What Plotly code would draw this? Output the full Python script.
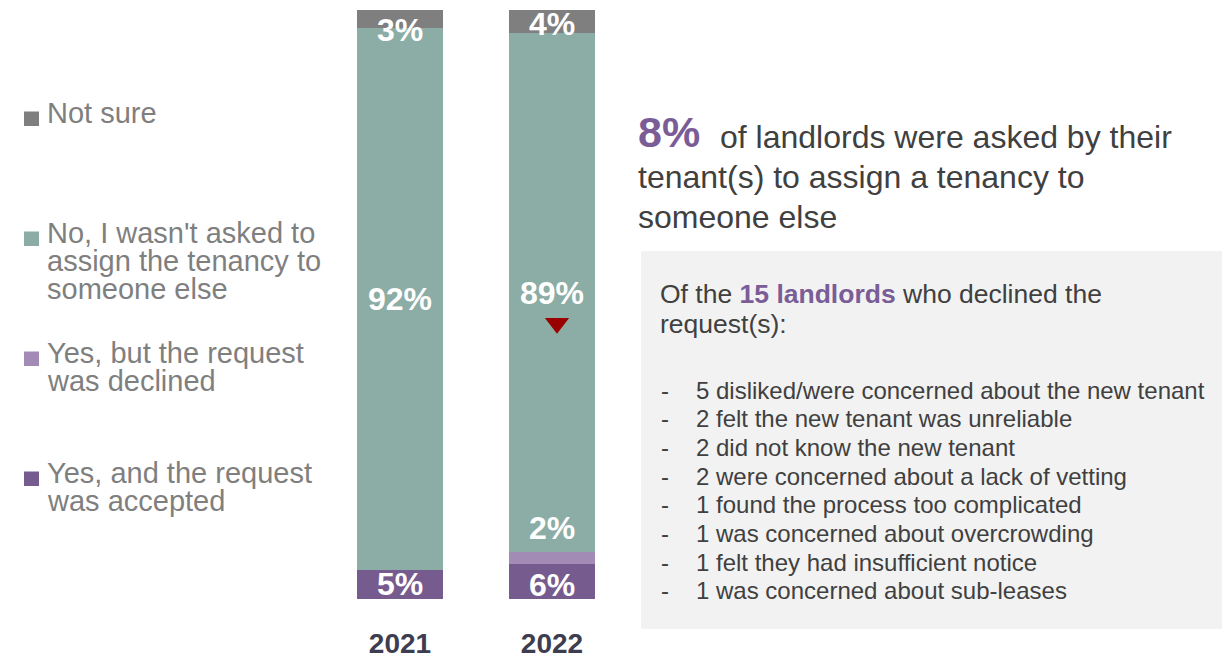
import plotly.graph_objects as go

# ---------------- data ----------------
years = ["2021", "2022"]
series_names = [
    "Yes, and the request was accepted",
    "Yes, but the request was declined",
    "No, I wasn't asked to assign the tenancy to someone else",
    "Not sure",
]
legend_lines = [
    ["Yes, and the request", "was accepted"],
    ["Yes, but the request", "was declined"],
    ["No, I wasn't asked to", "assign the tenancy to", "someone else"],
    ["Not sure"],
]
accepted = [5, 6]
declined = [0, 2]
not_asked = [92, 89]
not_sure = [3, 4]
series_values = [accepted, declined, not_asked, not_sure]

headline_pct = "8%"
headline_lines = [
    "of landlords were asked by their",
    "tenant(s) to assign a tenancy to",
    "someone else",
]
declined_count = "15 landlords"
reasons = [
    "5 disliked/were concerned about the new tenant",
    "2 felt the new tenant was unreliable",
    "2 did not know the new tenant",
    "2 were concerned about a lack of vetting",
    "1 found the process too complicated",
    "1 was concerned about overcrowding",
    "1 felt they had insufficient notice",
    "1 was concerned about sub-leases",
]
sig_year_index = 1          # 2022 significantly lower for "No" series
sig_series_index = 2

# ---------------- style ----------------
OFF = 8                      # page body margin
W, H = 1230 - OFF, 656 - OFF
ML, MR, MT, MB = 324 - OFF, 602, 10 - OFF, 57
PW, PH = W - ML - MR, H - MT - MB
colors = ["#765B8E", "#A28BB5", "#8BADA5", "#7F7F7F"]
FONT = "Liberation Sans, Arial, sans-serif"
DARK = "#404040"
PURPLE = "#7A5D97"
LEG_GREY = "#7F7F7F"


def xp(px):
    """screen pixel x -> paper"""
    return (px - OFF - ML) / PW


def yp(py):
    """screen pixel y -> paper"""
    return (H - MB - (py - OFF)) / PH


fig = go.Figure()
xs = list(range(len(years)))
for name, vals, col in zip(series_names, series_values, colors):
    fig.add_trace(go.Bar(
        x=xs, y=vals, name=name, marker=dict(color=col, line=dict(width=0)),
        width=0.56, showlegend=False, hoverinfo="skip",
    ))

# significance marker
fig.add_trace(go.Scatter(
    x=[sig_year_index + 0.033], y=[46.8], mode="markers",
    marker=dict(symbol="triangle-down", size=21, color="#990000"),
    showlegend=False, hoverinfo="skip",
))

annotations = []

# bar value labels (positions from normalised stack)
label_shift = {(0, 3): -11, (1, 3): -2, (1, 1): 30, (1, 0): -3}
for yi in range(len(years)):
    total = sum(v[yi] for v in series_values)
    cum = 0.0
    for si, vals in enumerate(series_values):
        v = vals[yi] / total * 100
        if vals[yi] > 0:
            annotations.append(dict(
                x=yi, y=cum + v / 2, xref="x", yref="y", text=f"<b>{vals[yi]}%</b>",
                showarrow=False, font=dict(family=FONT, size=32, color="white"),
                yshift=label_shift.get((yi, si), 0), borderpad=0,
            ))
        cum += v

# legend (top to bottom = reversed stack order)
legend_first_line = [473, 353, 233, 113]
for si in range(len(series_names)):
    y0 = legend_first_line[si]
    fig.add_shape(type="rect", xref="paper", yref="paper",
                  x0=xp(24), x1=xp(39), y0=yp(y0 - 1.5), y1=yp(y0 + 13),
                  fillcolor=colors[si], line=dict(width=0))
    for li, line in enumerate(legend_lines[si]):
        annotations.append(dict(
            x=xp(46), y=yp(y0 + li * 28), xref="paper", yref="paper",
            xanchor="left", yanchor="middle", text=line, showarrow=False,
            font=dict(family=FONT, size=29, color=LEG_GREY), borderpad=0,
        ))

# headline
annotations.append(dict(
    x=xp(637), y=yp(132), xref="paper", yref="paper", xanchor="left", yanchor="middle",
    text=f"<b>{headline_pct}</b>", showarrow=False,
    font=dict(family=FONT, size=43, color=PURPLE), borderpad=0,
))
head_x = [719, 637, 637]
for i, line in enumerate(headline_lines):
    annotations.append(dict(
        x=xp(head_x[i]), y=yp(137 + i * 40), xref="paper", yref="paper",
        xanchor="left", yanchor="middle", text=line, showarrow=False,
        font=dict(family=FONT, size=32, color=DARK), borderpad=0,
    ))

# grey box
fig.add_shape(type="rect", xref="paper", yref="paper", layer="below",
              x0=xp(641), x1=xp(1230), y0=yp(629), y1=yp(251),
              fillcolor="#F2F2F2", line=dict(width=0))
annotations.append(dict(
    x=xp(659), y=yp(294), xref="paper", yref="paper", xanchor="left", yanchor="middle",
    text=f"Of the <b><span style='color:{PURPLE}'>{declined_count}</span></b> who declined the",
    showarrow=False, font=dict(family=FONT, size=26.5, color=DARK), borderpad=0,
))
annotations.append(dict(
    x=xp(659), y=yp(324), xref="paper", yref="paper", xanchor="left", yanchor="middle",
    text="request(s):", showarrow=False,
    font=dict(family=FONT, size=26.5, color=DARK), borderpad=0,
))
for i, r in enumerate(reasons):
    yy = yp(390 + i * 28.7)
    annotations.append(dict(
        x=xp(660), y=yy, xref="paper", yref="paper", xanchor="left", yanchor="middle",
        text="-", showarrow=False, font=dict(family=FONT, size=24, color=DARK), borderpad=0,
    ))
    annotations.append(dict(
        x=xp(695), y=yy, xref="paper", yref="paper", xanchor="left", yanchor="middle",
        text=r, showarrow=False, font=dict(family=FONT, size=24, color=DARK), borderpad=0,
    ))

fig.update_layout(
    width=W, height=H, margin=dict(l=ML, r=MR, t=MT, b=MB, autoexpand=False),
    paper_bgcolor="white", plot_bgcolor="white",
    barmode="stack", barnorm="percent",
    annotations=annotations,
    xaxis=dict(range=[-0.5, 1.5], tickvals=xs, ticktext=[f"<b>{y}</b>" for y in years],
               tickfont=dict(family=FONT, size=28, color="#3D3D4F"),
               showgrid=False, zeroline=False, showline=False, ticks="",
               ticklabelstandoff=25, automargin=False),
    yaxis=dict(range=[0, 100], visible=False, showgrid=False, zeroline=False,
               automargin=False),
    font=dict(family=FONT),
)

fig.write_html("out.html")
